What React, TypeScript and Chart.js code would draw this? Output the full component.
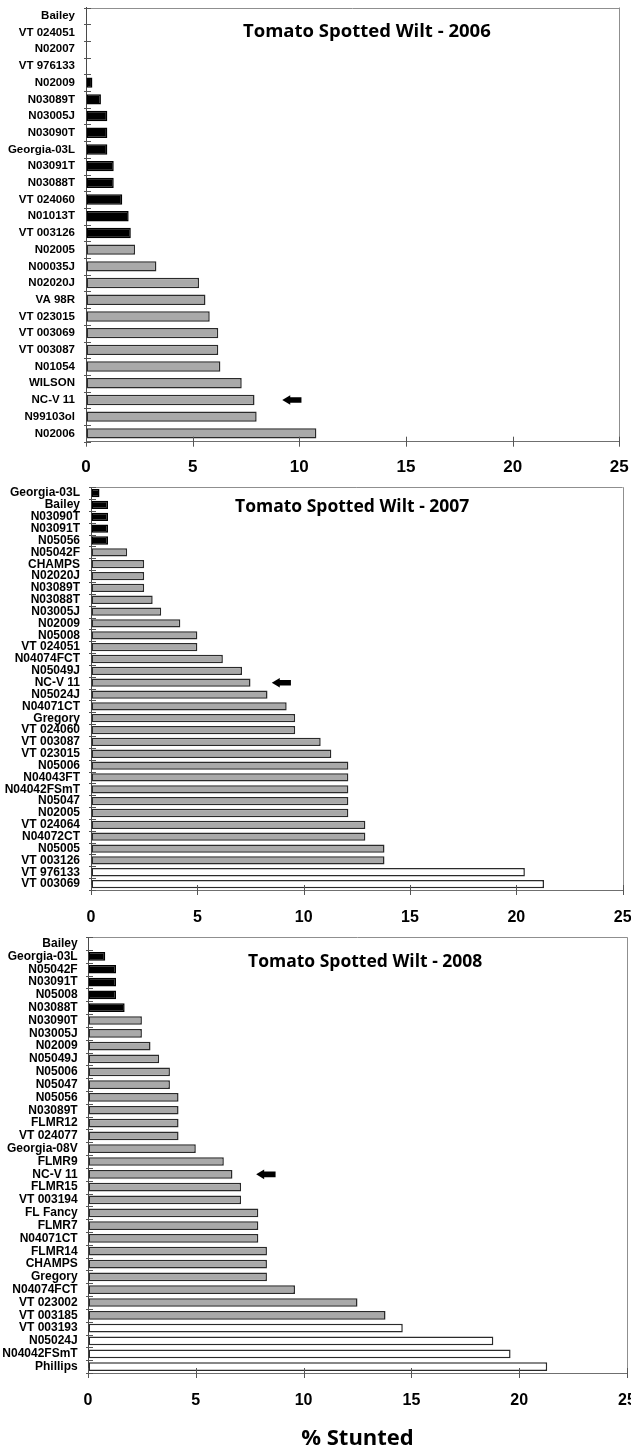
import React, { useEffect, useRef } from "react";
import { Chart, registerables } from "chart.js";

Chart.register(...registerables);

// ---- 2006 trial ----
const lines2006 = [
  "Bailey", "VT 024051", "N02007", "VT 976133", "N02009", "N03089T", "N03005J",
  "N03090T", "Georgia-03L", "N03091T", "N03088T", "VT 024060", "N01013T", "VT 003126",
  "N02005", "N00035J", "N02020J", "VA 98R", "VT 023015", "VT 003069", "VT 003087",
  "N01054", "WILSON", "NC-V 11", "N99103ol", "N02006",
];
const stunted2006 = [
  0, 0, 0, 0, 0.3, 0.7, 1.0, 1.0, 1.0, 1.3, 1.3, 1.7, 2.0, 2.1,
  2.3, 3.3, 5.3, 5.6, 5.8, 6.2, 6.2, 6.3, 7.3, 7.9, 8.0, 10.8,
];
const group2006 = [
  "A", "A", "A", "A", "A", "A", "A", "A", "A", "A", "A", "A", "A", "A",
  "B", "B", "B", "B", "B", "B", "B", "B", "B", "B", "B", "B",
];

// ---- 2007 trial ----
const lines2007 = [
  "Georgia-03L", "Bailey", "N03090T", "N03091T", "N05056", "N05042F", "CHAMPS",
  "N02020J", "N03089T", "N03088T", "N03005J", "N02009", "N05008", "VT 024051",
  "N04074FCT", "N05049J", "NC-V 11", "N05024J", "N04071CT", "Gregory", "VT 024060",
  "VT 003087", "VT 023015", "N05006", "N04043FT", "N04042FSmT", "N05047", "N02005",
  "VT 024064", "N04072CT", "N05005", "VT 003126", "VT 976133", "VT 003069",
];
const stunted2007 = [
  0.4, 0.8, 0.8, 0.8, 0.8, 1.7, 2.5, 2.5, 2.5, 2.9, 3.3, 4.2, 5.0, 5.0,
  6.2, 7.1, 7.5, 8.3, 9.2, 9.6, 9.6, 10.8, 11.3, 12.1, 12.1, 12.1, 12.1, 12.1,
  12.9, 12.9, 13.8, 13.8, 20.4, 21.3,
];
const group2007 = [
  "A", "A", "A", "A", "A", "B", "B", "B", "B", "B", "B", "B", "B", "B",
  "B", "B", "B", "B", "B", "B", "B", "B", "B", "B", "B", "B", "B", "B",
  "B", "B", "B", "B", "C", "C",
];

// ---- 2008 trial ----
const lines2008 = [
  "Bailey", "Georgia-03L", "N05042F", "N03091T", "N05008", "N03088T", "N03090T",
  "N03005J", "N02009", "N05049J", "N05006", "N05047", "N05056", "N03089T",
  "FLMR12", "VT 024077", "Georgia-08V", "FLMR9", "NC-V 11", "FLMR15", "VT 003194",
  "FL Fancy", "FLMR7", "N04071CT", "FLMR14", "CHAMPS", "Gregory", "N04074FCT",
  "VT 023002", "VT 003185", "VT 003193", "N05024J", "N04042FSmT", "Phillips",
];
const stunted2008 = [
  0, 0.8, 1.3, 1.3, 1.3, 1.7, 2.5, 2.5, 2.9, 3.3, 3.8, 3.8, 4.2, 4.2,
  4.2, 4.2, 5.0, 6.3, 6.7, 7.1, 7.1, 7.9, 7.9, 7.9, 8.3, 8.3, 8.3, 9.6,
  12.5, 13.8, 14.6, 18.8, 19.6, 21.3,
];
const group2008 = [
  "A", "A", "A", "A", "A", "A", "B", "B", "B", "B", "B", "B", "B", "B",
  "B", "B", "B", "B", "B", "B", "B", "B", "B", "B", "B", "B", "B", "B",
  "B", "B", "C", "C", "C", "C",
];

// Check line highlighted with an arrow, and where the arrow tip sits (% stunted)
const checkLine = "NC-V 11";
const arrowTip = [9.2, 8.5, 7.8];
const arrowLength = 0.9;

const xTicks = [0, 5, 10, 15, 20, 25];

const FILL: Record<string, string> = { A: "#000000", B: "#a9a9a9", C: "#ffffff" };
const EDGE: Record<string, string> = { A: "#000000", B: "#2a2a2a", C: "#2a2a2a" };

type PanelSpec = {
  title: string;
  labels: string[];
  values: number[];
  groups: string[];
  arrowAt: number;
  top: number;
  height: number;
  padTop: number;
  yWidth: number;
  padRight: number;
  xHeight: number;
  tickSize: number;
  tickGap: number;
  labelSize: number;
  labelGap: number;
  barPct: number;
  titleX: number;
  titleY: number;
  titleSize: number;
  axisTitle?: string;
};

const panels: PanelSpec[] = [
  {
    title: "Tomato Spotted Wilt - 2006",
    labels: lines2006, values: stunted2006, groups: group2006, arrowAt: arrowTip[0],
    top: 0, height: 480, padTop: 7.5, yWidth: 86, padRight: 20.7, xHeight: 38.3,
    tickSize: 17, tickGap: 15, labelSize: 11.5, labelGap: 11, barPct: 0.62,
    titleX: 243, titleY: 31.5, titleSize: 18.5,
  },
  {
    title: "Tomato Spotted Wilt - 2007",
    labels: lines2007, values: stunted2007, groups: group2007, arrowAt: arrowTip[1],
    top: 480, height: 450, padTop: 7, yWidth: 91, padRight: 17.3, xHeight: 40,
    tickSize: 16, tickGap: 18, labelSize: 12, labelGap: 11, barPct: 0.7,
    titleX: 235, titleY: 27, titleSize: 17.5,
  },
  {
    title: "Tomato Spotted Wilt - 2008",
    labels: lines2008, values: stunted2008, groups: group2008, arrowAt: arrowTip[2],
    top: 930, height: 522, padTop: 7, yWidth: 88, padRight: 13, xHeight: 79,
    tickSize: 16, tickGap: 18, labelSize: 12, labelGap: 10.3, barPct: 0.68,
    titleX: 248, titleY: 32, titleSize: 17.5, axisTitle: "% Stunted",
  },
];

const CANVAS_W = 640;
const TITLE_FONT = '"Open Sans", Lato, sans-serif';
const LABEL_FONT = '"Liberation Sans", Arial, sans-serif';

// Frame lines, crossing tick marks, panel title and the check-line arrow
const decorPlugin = {
  id: "decor",
  afterDraw(chart: any) {
    const spec: PanelSpec = chart.options.plugins.decor.spec;
    const { ctx, chartArea } = chart;
    const xs = chart.scales.x;
    const ys = chart.scales.y;
    ctx.save();

    // top and right frame
    ctx.strokeStyle = "#8f8f8f";
    ctx.lineWidth = 1;
    ctx.beginPath();
    ctx.moveTo(chartArea.left, Math.round(chartArea.top) + 0.5);
    ctx.lineTo(chartArea.right, Math.round(chartArea.top) + 0.5);
    ctx.moveTo(Math.round(chartArea.right) + 0.5, chartArea.top);
    ctx.lineTo(Math.round(chartArea.right) + 0.5, chartArea.bottom);
    ctx.stroke();

    // tick marks crossing the axes
    ctx.strokeStyle = "#555";
    ctx.beginPath();
    xs.ticks.forEach((_t: any, i: number) => {
      const px = Math.round(xs.getPixelForTick(i)) + 0.5;
      ctx.moveTo(px, chartArea.bottom - 5);
      ctx.lineTo(px, chartArea.bottom + 5);
    });
    const n = spec.labels.length;
    for (let i = 0; i <= n; i++) {
      const py = Math.round(ys.getPixelForValue(i - 0.5)) + 0.5;
      ctx.moveTo(chartArea.left - 2, py);
      ctx.lineTo(chartArea.left + 5, py);
    }
    ctx.stroke();

    // title
    ctx.fillStyle = "#000";
    ctx.font = `bold ${spec.titleSize}px ${TITLE_FONT}`;
    ctx.textAlign = "left";
    ctx.textBaseline = "middle";
    ctx.fillText(spec.title, spec.titleX, spec.titleY);

    // arrow pointing at the check line
    const row = spec.labels.indexOf(checkLine);
    if (row >= 0) {
      const yc = ys.getPixelForValue(row);
      const tip = xs.getPixelForValue(spec.arrowAt);
      const tail = xs.getPixelForValue(spec.arrowAt + arrowLength);
      const head = 8;
      ctx.beginPath();
      ctx.moveTo(tip, yc);
      ctx.lineTo(tip + head, yc - 4.8);
      ctx.lineTo(tip + head, yc - 2.8);
      ctx.lineTo(tail, yc - 2.8);
      ctx.lineTo(tail, yc + 2.8);
      ctx.lineTo(tip + head, yc + 2.8);
      ctx.lineTo(tip + head, yc + 4.8);
      ctx.closePath();
      ctx.fill();
    }
    ctx.restore();
  },
};

function Panel({ spec }: { spec: PanelSpec }) {
  const ref = useRef<HTMLCanvasElement | null>(null);

  useEffect(() => {
    if (!ref.current) return;
    const chart = new Chart(ref.current, {
      type: "bar",
      data: {
        labels: spec.labels,
        datasets: [
          {
            data: spec.values,
            backgroundColor: spec.groups.map((g) => FILL[g]),
            borderColor: spec.groups.map((g) => EDGE[g]),
            borderWidth: spec.values.map((v) => (v > 0 ? 1.5 : 0)),
            borderSkipped: false,
            barPercentage: spec.barPct,
            categoryPercentage: 1,
          },
        ],
      },
      options: {
        indexAxis: "y",
        responsive: false,
        animation: false,
        devicePixelRatio: 1,
        layout: { padding: { top: spec.padTop, right: spec.padRight, left: 0, bottom: 0 } },
        plugins: {
          legend: { display: false },
          tooltip: { enabled: false },
          title: { display: false },
          decor: { spec },
        } as any,
        scales: {
          x: {
            type: "linear",
            min: 0,
            max: 25,
            afterBuildTicks: (scale: any) => {
              scale.ticks = xTicks.map((v) => ({ value: v }));
            },
            afterFit: (scale: any) => {
              scale.height = spec.xHeight;
            },
            // invisible tick marks set the gap between axis line and labels
            grid: {
              display: true,
              drawOnChartArea: false,
              drawTicks: true,
              tickLength: spec.tickGap,
              tickColor: "rgba(0,0,0,0)",
            },
            border: { display: true, color: "#6f6f6f", width: 1 },
            ticks: {
              padding: 0,
              color: "#000",
              font: { family: LABEL_FONT, size: spec.tickSize, weight: "bold" },
            },
            title: spec.axisTitle
              ? {
                  display: true,
                  text: spec.axisTitle,
                  color: "#000",
                  padding: { top: 0, bottom: 0 },
                  font: { family: TITLE_FONT, size: 22, weight: "bold" },
                }
              : { display: false },
          },
          y: {
            type: "category",
            offset: true,
            afterFit: (scale: any) => {
              scale.width = spec.yWidth;
            },
            grid: {
              display: true,
              drawOnChartArea: false,
              drawTicks: true,
              tickLength: spec.labelGap,
              tickColor: "rgba(0,0,0,0)",
              offset: true,
            },
            border: { display: true, color: "#4a4a4a", width: 1 },
            ticks: {
              padding: 0,
              autoSkip: false,
              color: "#000",
              font: { family: LABEL_FONT, size: spec.labelSize, weight: "bold" },
            },
          },
        },
      },
      plugins: [decorPlugin],
    });
    return () => chart.destroy();
  }, [spec]);

  return (
    <canvas
      ref={ref}
      width={CANVAS_W}
      height={spec.height}
      style={{ position: "absolute", left: 0, top: spec.top, width: CANVAS_W, height: spec.height }}
    />
  );
}

export default function App() {
  return (
    <div
      style={{
        position: "absolute",
        left: 0,
        top: 0,
        width: 631,
        height: 1452,
        overflow: "hidden",
        background: "#fff",
      }}
    >
      {panels.map((p) => (
        <Panel key={p.title} spec={p} />
      ))}
    </div>
  );
}
